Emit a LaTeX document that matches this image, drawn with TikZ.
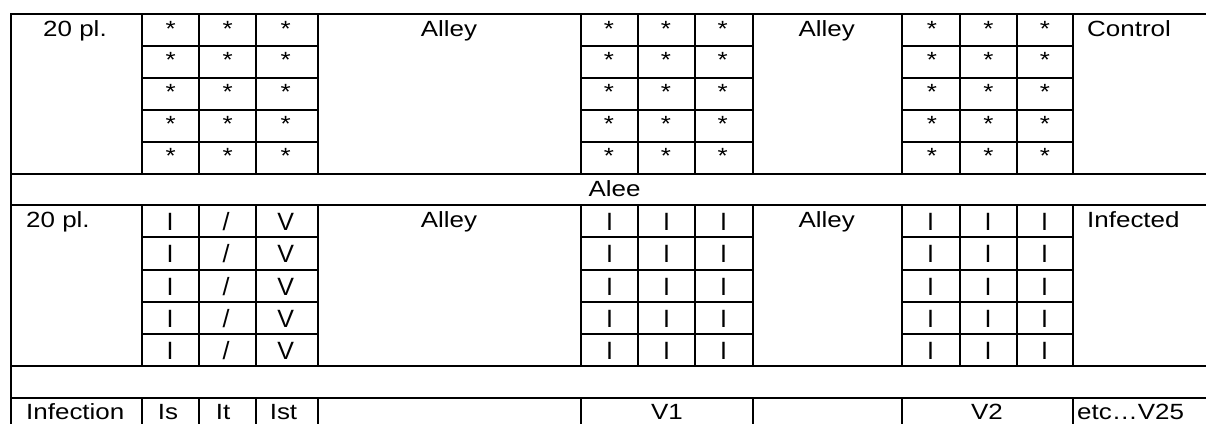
\documentclass[tikz,border=0pt]{standalone}
\usepackage{fontspec}
\setmainfont{Liberation Sans}
\newfontfamily\labfamily[FakeStretch=1.18]{Liberation Sans}
\newcommand{\labfont}{\labfamily\fontsize{22}{26}\selectfont}
\newcommand{\cellfont}{\fontsize{25}{30}\selectfont}
\begin{document}
\begin{tikzpicture}[x=1pt,y=-1pt,
  grid/.style={line width=2pt,draw=black},
  lab/.style={inner sep=0pt,font=\labfont,anchor=base},
  labw/.style={inner sep=0pt,font=\labfont,anchor=base west},
  celltxt/.style={inner sep=0pt,font=\cellfont,anchor=base}]
\useasboundingbox (0,0) rectangle (1206,424);
% full-width horizontal lines
\foreach \yy in {14,173.7,205.3,366,397.7}
  \draw[grid] (10,\yy) -- (1206,\yy);
% left border
\draw[grid] (11,13) -- (11,424);
% column lines of the two plot blocks
\foreach \xx in {142,199,256,318,581,638,695.3,752.7,901.7,960,1017,1073}{
  \draw[grid] (\xx,14) -- (\xx,173.7);
  \draw[grid] (\xx,205.3) -- (\xx,366);
}
% column lines of the infection row
\foreach \xx in {142,199,256,318,581,752.7,901.7,1073}
  \draw[grid] (\xx,397.7) -- (\xx,424);
% sub-row lines inside the plot blocks
\foreach \yy in {45.9,77.9,109.8,141.8,237.4,269.6,301.7,333.9}{
  \draw[grid] (142,\yy) -- (318,\yy);
  \draw[grid] (581,\yy) -- (752.7,\yy);
  \draw[grid] (901.7,\yy) -- (1073,\yy);
}
% asterisks (control block)
\foreach \b [count=\r] in {36,67.9,99.9,131.8,163.8}{
  \foreach \xx [count=\c] in {170.7,227.7,285.7,609,666,722.7,932,988.3,1045}
    \node[lab] (s-\r-\c) at (\xx,\b) {*};
}
% infected block
\foreach \b [count=\r] in {230.7,262.8,295,327.1,359.3}{
  \node[celltxt] (i-\r-1) at (170,\b) {I};
  \node[celltxt] (i-\r-2) at (226,\b) {/};
  \node[celltxt] (i-\r-3) at (285.7,\b) {V};
  \foreach \xx [count=\c from 4] in {609.5,666.5,723.5,930.5,988,1044.5}
    \node[celltxt] (i-\r-\c) at (\xx,\b) {I};
}
% labels
\node[lab] (pl1) at (75,36.3) {20 pl.};
\node[lab] (al1) at (449,36.5) {Alley};
\node[lab] (al2) at (826.7,36.5) {Alley};
\node[labw] (ctl) at (1087,36.5) {Control};
\node[lab] (alee) at (614.5,196.5) {Alee};
\node[labw] (pl2) at (26,227.3) {20 pl.};
\node[lab] (al3) at (449,227.5) {Alley};
\node[lab] (al4) at (826.7,227.5) {Alley};
\node[labw] (inf) at (1087,227.5) {Infected};
\node[labw] (infn) at (26,419) {Infection};
\node[lab] (is) at (168,419) {Is};
\node[lab] (it) at (223,419) {It};
\node[lab] (ist) at (283.5,419) {Ist};
\node[lab] (v1) at (667,419) {V1};
\node[lab] (v2) at (987,419) {V2};
\node[labw] (etc) at (1077,419) {etc…V25};
\end{tikzpicture}
\end{document}
